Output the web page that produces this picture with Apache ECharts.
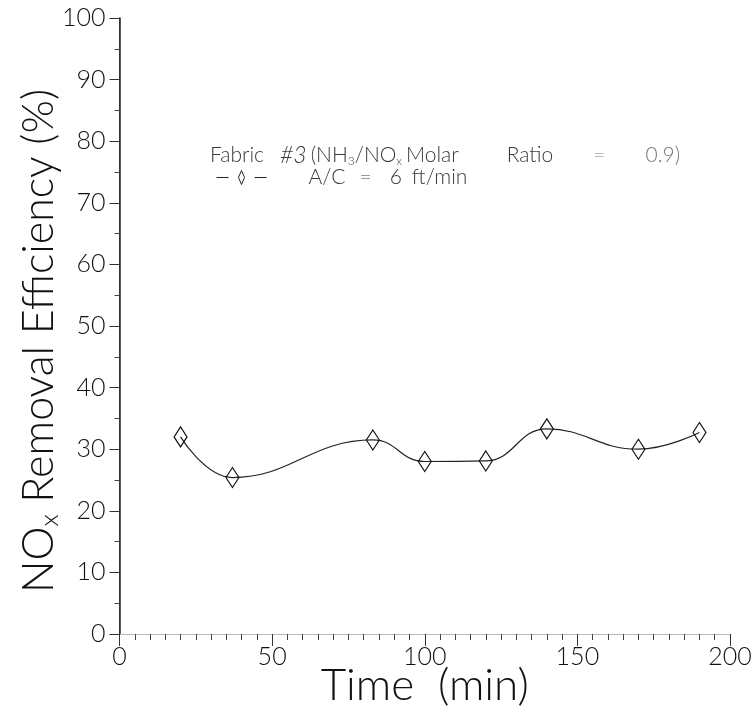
<!DOCTYPE html>
<html>
<head>
<meta charset="utf-8">
<script src="https://cdn.jsdelivr.net/npm/echarts@6/dist/echarts.min.js"></script>
<style>
  html, body { margin: 0; padding: 0; background: #fff; }
  #chart { width: 753px; height: 714px; }
</style>
</head>
<body>
<div id="chart"></div>
<script>
// Measured NOx removal efficiency over time, fabric #3
const timeMin = [20, 37, 83, 100, 120, 140, 170, 190];
const efficiencyPct = [32.0, 25.4, 31.5, 28.0, 28.1, 33.3, 30.0, 32.7];
const xRange = [0, 200];
const yRange = [0, 100];
const seriesName = 'A/C = 6 ft/min';

const FONT = "Lato, 'DejaVu Sans', sans-serif";
const INK = '#111';
const NOTE = '#3a3a3a';

const noteStyle = (extra) => Object.assign(
  { fontFamily: FONT, fontWeight: 300, fontSize: 21, color: NOTE }, extra || {});

const chart = echarts.init(document.getElementById('chart'));

chart.setOption({
  backgroundColor: '#fff',
  animation: false,
  title: {
    text: '{t|Fabric}{h|#3}{p|(NH}{s|3}{t|/NO}{s|x}{m|Molar}{r|Ratio}{e|=}{v|0.9)}',
    left: 205,
    top: 139,
    textStyle: {
      rich: {
        t: noteStyle(),
        h: noteStyle({ fontSize: 23, fontStyle: 'italic', padding: [0, 0, 0, 16] }),
        p: noteStyle({ padding: [0, 0, 0, 4] }),
        s: noteStyle({ fontSize: 12, verticalAlign: 'bottom', padding: [9, 0, 0, 0] }),
        m: noteStyle({ padding: [0, 0, 0, 4] }),
        r: noteStyle({ padding: [0, 0, 0, 48] }),
        e: noteStyle({ color: '#bbb', padding: [0, 0, 0, 40] }),
        v: noteStyle({ color: '#777', padding: [0, 0, 0, 40] })
      }
    }
  },
  legend: {
    left: 211,
    top: 162,
    data: [seriesName],
    icon: 'path://M0,7 L12,7 M22,7 L25,0 L28,7 L25,14 Z M38,7 L50,7',
    itemWidth: 50,
    itemHeight: 15,
    itemStyle: { color: 'rgba(0,0,0,0)', borderColor: '#222', borderWidth: 1 },
    formatter: () => '{a|A/C}{e|=}{n|6}{f|ft/min}',
    textStyle: {
      padding: [0, 0, 0, 37],
      rich: {
        a: noteStyle(),
        e: noteStyle({ color: '#999', padding: [0, 0, 0, 14] }),
        n: noteStyle({ padding: [0, 0, 0, 18] }),
        f: noteStyle({ padding: [0, 0, 0, 10] })
      }
    }
  },
  grid: { left: 119.5, right: 23, top: 18, bottom: 80, outerBoundsMode: 'none', containLabel: false },
  xAxis: [{
    type: 'value',
    min: xRange[0], max: xRange[1], interval: 50,
    name: 'Time  (min)',
    nameLocation: 'middle',
    nameGap: 30,
    nameMoveOverlap: false,
    nameTextStyle: { fontFamily: FONT, fontWeight: 300, fontSize: 44, color: INK },
    axisLine: { show: true, onZero: false, lineStyle: { color: '#333', width: 1 } },
    axisTick: { show: true, inside: false, length: 12, lineStyle: { color: '#333', width: 1 } },
    minorTick: { show: true, splitNumber: 10, length: 6, lineStyle: { color: '#444', width: 1 } },
    splitLine: { show: false },
    axisLabel: { margin: 10, fontFamily: FONT, fontWeight: 300, fontSize: 25, color: INK }
  }, {
    type: 'value', position: 'top',
    min: xRange[0], max: xRange[1],
    axisLine: { show: true, lineStyle: { color: '#bbb', width: 1 } },
    axisTick: { show: false }, axisLabel: { show: false }, splitLine: { show: false }
  }],
  yAxis: [{
    type: 'value',
    min: yRange[0], max: yRange[1], interval: 10,
    name: '{a|NO}{s|x}{a| Removal Efficiency (%)}',
    nameLocation: 'middle',
    nameGap: 57,
    nameMoveOverlap: false,
    nameTextStyle: {
      padding: [0, 30, 0, 0],
      rich: {
        a: { fontFamily: FONT, fontWeight: 300, fontSize: 43, color: INK },
        s: { fontFamily: FONT, fontWeight: 300, fontSize: 26, color: INK, verticalAlign: 'bottom', padding: [20, 0, 0, 0] }
      }
    },
    axisLine: { show: true, onZero: false, lineStyle: { color: '#222', width: 1.5 } },
    axisTick: { show: true, inside: false, length: 10, lineStyle: { color: '#333', width: 1 } },
    minorTick: { show: true, splitNumber: 2, length: 5, lineStyle: { color: '#444', width: 1 } },
    splitLine: { show: false },
    axisLabel: { margin: 14, fontFamily: FONT, fontWeight: 300, fontSize: 25, color: INK }
  }, {
    type: 'value', position: 'right',
    min: yRange[0], max: yRange[1],
    axisLine: { show: true, lineStyle: { color: '#333', width: 1 } },
    axisTick: { show: false }, axisLabel: { show: false }, splitLine: { show: false }
  }],
  series: [{
    name: seriesName,
    type: 'line',
    smooth: 0.45,
    data: timeMin.map((t, i) => [t, efficiencyPct[i]]),
    symbol: 'diamond',
    symbolSize: [13, 20],
    lineStyle: { color: '#222', width: 1.2 },
    itemStyle: { color: 'rgba(0,0,0,0)', borderColor: '#111', borderWidth: 1.2 }
  }]
});
</script>
</body>
</html>
